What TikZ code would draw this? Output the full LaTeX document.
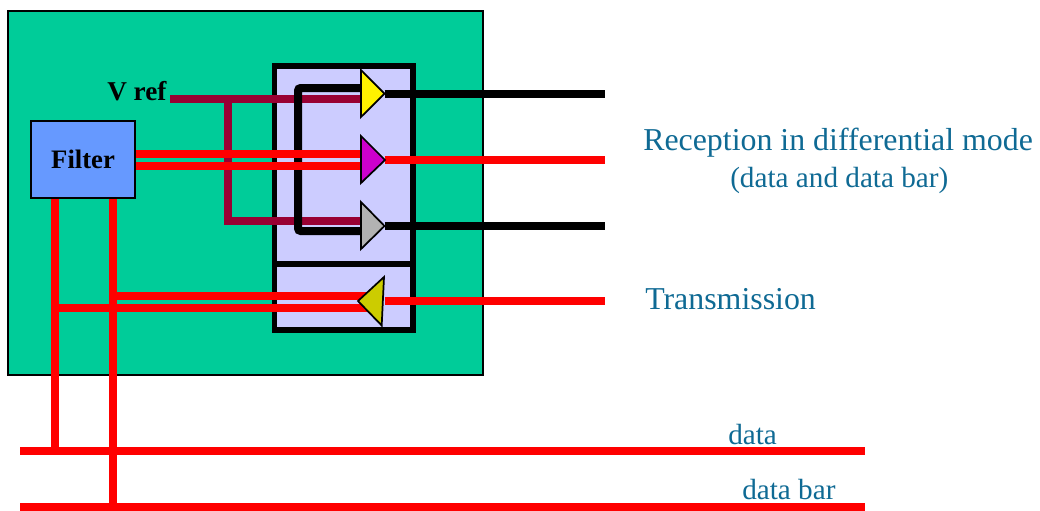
\documentclass[tikz,border=0pt]{standalone}
\usepackage{fontspec}
\setmainfont{Liberation Serif}
\definecolor{boardgreen}{HTML}{00CC99}
\definecolor{lav}{HTML}{CCCCFF}
\definecolor{filterblue}{HTML}{6699FF}
\definecolor{maroonline}{HTML}{990033}
\definecolor{tealtext}{HTML}{0F6A94}
\definecolor{txolive}{HTML}{CCCC00}
\definecolor{magentatri}{HTML}{CC00CC}
\definecolor{graytri}{HTML}{B2B2B2}
\tikzset{
  redline/.style={draw=red,line width=6pt},
  maroonwire/.style={draw=maroonline,line width=6pt},
  blackwire/.style={draw=black,line width=6pt},
  tri/.style={draw=black,line width=1.3pt,line join=miter},
  label/.style={text=tealtext,inner sep=0pt,anchor=base west},
  boldlabel/.style={text=black,inner sep=0pt,font=\fontsize{20.4}{22}\selectfont\bfseries},
}
\begin{document}
\begin{tikzpicture}[x=0.75pt,y=-0.75pt]
\useasboundingbox (0,0) rectangle (1040,511);
% board
\node[draw=black,line width=1.3pt,fill=boardgreen,minimum width=356.25pt,minimum height=273pt,inner sep=0pt,anchor=north west] (board) at (7.2,10.2) {};
% interface box
\node[draw=black,line width=4.1pt,fill=lav,minimum width=104pt,minimum height=148.5pt,inner sep=0pt,anchor=north west] (rxbox) at (271.75,63.25) {};
\node[draw=black,line width=4.1pt,fill=lav,minimum width=104pt,minimum height=49pt,inner sep=0pt,anchor=north west] (txbox) at (271.75,261.75) {};
% coordinates
\coordinate (vrefstart) at (170,99);
\coordinate (vrefj) at (228,99);
\coordinate (ay) at (361,99);
\coordinate (vrefb) at (228,220.5);
\coordinate (ag) at (361,220.5);
\coordinate (by) at (361,88);
\coordinate (bl1) at (298,88);
\coordinate (bl2) at (298,231);
\coordinate (bg) at (361,231);
\coordinate (fr1) at (136,154);
\coordinate (fr2) at (136,165.5);
\coordinate (m1) at (361,154);
\coordinate (m2) at (361,165.5);
\coordinate (ty) at (384.5,93.7);
\coordinate (tm) at (385,160);
\coordinate (tg) at (384.5,226.2);
\coordinate (oy) at (605,93.7);
\coordinate (om) at (605,160);
\coordinate (og) at (605,226.2);
\coordinate (ttx) at (384.5,301);
\coordinate (otx) at (605,301);
\coordinate (fb1) at (54.5,198);
\coordinate (fb2) at (112.5,198);
\coordinate (d1) at (54.5,451);
\coordinate (d2) at (112.5,506.5);
\coordinate (txh1) at (112.5,295.5);
\coordinate (txh2) at (54.5,308);
\coordinate (txe1) at (368,295.5);
\coordinate (txe2) at (368,308);
\coordinate (b1a) at (20,451);
\coordinate (b1b) at (865,451);
\coordinate (b2a) at (20,506.5);
\coordinate (b2b) at (865,506.5);
% maroon
\draw[maroonwire] (vrefstart) -- (ay);
\draw[maroonwire,line join=miter] (vrefj) -- (vrefb) -- (ag);
% black bracket
\draw[blackwire,rounded corners=2pt] (by) -- (bl1) -- (bl2) -- (bg);
\draw[blackwire] (ty) -- (oy);
\draw[blackwire] (tg) -- (og);
% red
\draw[redline] (fr1) -- (m1);
\draw[redline] (fr2) -- (m2);
\draw[redline] (tm) -- (om);
\draw[redline] (ttx) -- (otx);
\draw[redline] (fb1) -- (d1);
\draw[redline] (fb2) -- (d2);
\draw[redline] (txh1) -- (txe1);
\draw[redline] (txh2) -- (txe2);
\draw[redline] (b1a) -- (b1b);
\draw[redline] (b2a) -- (b2b);
% triangles
\draw[tri,fill=yellow] (361,70) -- (384.5,93.7) -- (361,117) -- cycle;
\draw[tri,fill=magentatri] (361,136) -- (385,160) -- (361,183) -- cycle;
\draw[tri,fill=graytri] (361,202) -- (384.5,226) -- (361,249) -- cycle;
\draw[tri,fill=txolive] (384,277) -- (358,301) -- (381.7,325.5) -- cycle;
% filter
\node[draw=black,line width=1.3pt,fill=filterblue,minimum width=78pt,minimum height=57.75pt,inner sep=0pt,anchor=north west,font=\fontsize{20}{22}\selectfont\bfseries] (filter) at (30.2,120.2) {\raisebox{-1pt}{Filter}};
% texts
\node[boldlabel,anchor=base west] (vref) at (107,100.5) {V ref};
\node[label,font=\fontsize{23.9}{26}\selectfont] (rec) at (643,150) {Reception in differential mode};
\node[label,font=\fontsize{21.9}{24}\selectfont] (recsub) at (730,187.5) {(data and data bar)};
\node[label,font=\fontsize{23.9}{26}\selectfont] (tx) at (645,309) {Transmission};
\node[label,font=\fontsize{21.9}{24}\selectfont] (data) at (728,444.5) {data};
\node[label,font=\fontsize{21.9}{24}\selectfont] (databar) at (742,499.5) {data bar};
\end{tikzpicture}
\end{document}
